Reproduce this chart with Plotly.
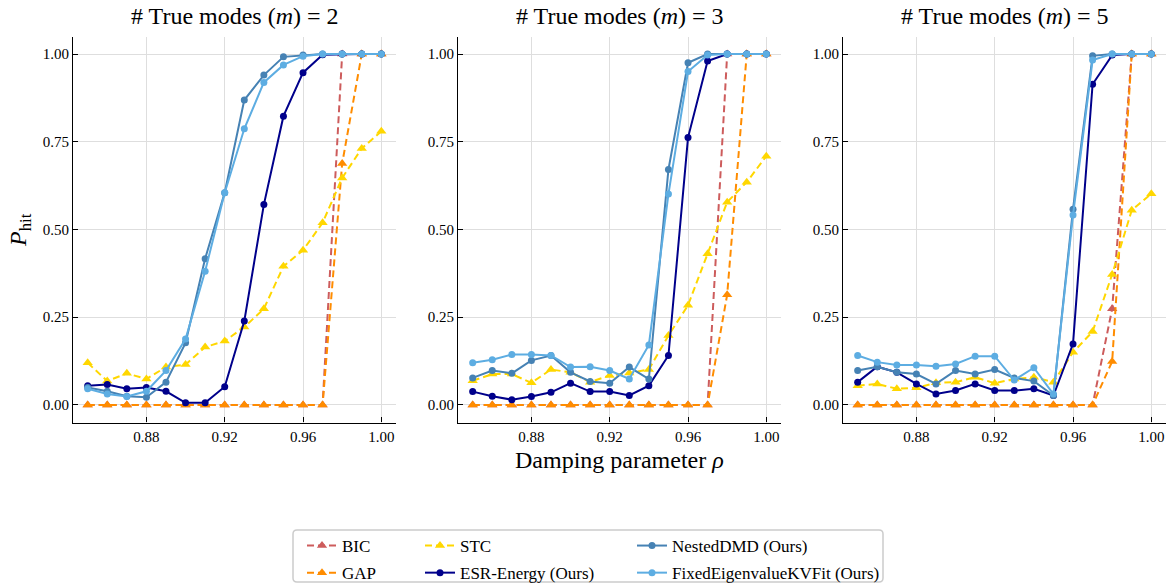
import plotly.graph_objects as go

W, H = 1171, 585

rho = [0.85, 0.86, 0.87, 0.88, 0.89, 0.90, 0.91, 0.92, 0.93, 0.94, 0.95, 0.96, 0.97, 0.98, 0.99, 1.00]
panel_titles = ["# True modes (<i>m</i>) = 2", "# True modes (<i>m</i>) = 3", "# True modes (<i>m</i>) = 5"]
x_ticks = [0.88, 0.92, 0.96, 1.00]
y_ticks = [0.0, 0.25, 0.5, 0.75, 1.0]

# m = 2
bic_m2 = [0, 0, 0, 0, 0, 0, 0, 0, 0, 0, 0, 0, 0, 1.0, 1.0, 1.0]
gap_m2 = [0, 0, 0, 0, 0, 0, 0, 0, 0, 0, 0, 0, 0, 0.688, 1.0, 1.0]
stc_m2 = [0.12, 0.068, 0.09, 0.074, 0.108, 0.115, 0.165, 0.182, 0.222, 0.274, 0.395, 0.441, 0.519, 0.647, 0.731, 0.78]
esr_m2 = [0.055, 0.058, 0.046, 0.05, 0.039, 0.006, 0.006, 0.052, 0.239, 0.571, 0.823, 0.947, 0.998, 1.0, 1.0, 1.0]
nested_m2 = [0.05, 0.039, 0.025, 0.022, 0.065, 0.177, 0.417, 0.605, 0.869, 0.94, 0.992, 0.997, 1.0, 1.0, 1.0, 1.0]
fixed_m2 = [0.046, 0.031, 0.024, 0.039, 0.098, 0.188, 0.381, 0.605, 0.787, 0.919, 0.969, 0.994, 1.0, 1.0, 1.0, 1.0]

# m = 3
bic_m3 = [0, 0, 0, 0, 0, 0, 0, 0, 0, 0, 0, 0, 0, 1.0, 1.0, 1.0]
gap_m3 = [0, 0, 0, 0, 0, 0, 0, 0, 0, 0, 0, 0, 0, 0.314, 1.0, 1.0]
stc_m3 = [0.069, 0.088, 0.088, 0.063, 0.101, 0.093, 0.065, 0.084, 0.091, 0.101, 0.198, 0.284, 0.431, 0.578, 0.635, 0.709]
esr_m3 = [0.038, 0.025, 0.015, 0.024, 0.036, 0.062, 0.038, 0.038, 0.027, 0.055, 0.141, 0.762, 0.98, 1.0, 1.0, 1.0]
nested_m3 = [0.077, 0.098, 0.09, 0.127, 0.141, 0.093, 0.067, 0.062, 0.108, 0.074, 0.671, 0.975, 1.0, 1.0, 1.0, 1.0]
fixed_m3 = [0.12, 0.129, 0.144, 0.144, 0.141, 0.108, 0.109, 0.098, 0.074, 0.171, 0.601, 0.95, 0.997, 1.0, 1.0, 1.0]

# m = 5
bic_m5 = [0, 0, 0, 0, 0, 0, 0, 0, 0, 0, 0, 0, 0, 0.274, 1.0, 1.0]
gap_m5 = [0, 0, 0, 0, 0, 0, 0, 0, 0, 0, 0, 0, 0, 0.124, 1.0, 1.0]
stc_m5 = [0.055, 0.06, 0.046, 0.049, 0.063, 0.065, 0.079, 0.062, 0.074, 0.079, 0.065, 0.15, 0.209, 0.372, 0.555, 0.602]
esr_m5 = [0.065, 0.109, 0.093, 0.06, 0.031, 0.041, 0.06, 0.041, 0.041, 0.046, 0.027, 0.174, 0.914, 0.997, 1.0, 1.0]
nested_m5 = [0.098, 0.109, 0.093, 0.088, 0.06, 0.098, 0.088, 0.101, 0.077, 0.068, 0.027, 0.558, 0.995, 1.0, 1.0, 1.0]
fixed_m5 = [0.141, 0.122, 0.114, 0.114, 0.11, 0.117, 0.139, 0.139, 0.071, 0.106, 0.031, 0.541, 0.983, 1.0, 1.0, 1.0]

panels = [
    {"BIC": bic_m2, "GAP": gap_m2, "STC": stc_m2, "ESR": esr_m2, "Nested": nested_m2, "Fixed": fixed_m2},
    {"BIC": bic_m3, "GAP": gap_m3, "STC": stc_m3, "ESR": esr_m3, "Nested": nested_m3, "Fixed": fixed_m3},
    {"BIC": bic_m5, "GAP": gap_m5, "STC": stc_m5, "ESR": esr_m5, "Nested": nested_m5, "Fixed": fixed_m5},
]

methods = [
    # key, label, color, dashed, symbol, legend id
    ("BIC", "BIC", "#CD5C5C", True, "triangle-up", "legend"),
    ("GAP", "GAP", "#FF8C00", True, "triangle-up", "legend"),
    ("STC", "STC", "#FFD700", True, "triangle-up", "legend2"),
    ("ESR", "ESR-Energy (Ours)", "#00008B", False, "circle", "legend2"),
    ("Nested", "NestedDMD (Ours)", "#4682B4", False, "circle", "legend3"),
    ("Fixed", "FixedEigenvalueKVFit (Ours)", "#5DADE2", False, "circle", "legend3"),
]

SERIF = "Liberation Serif"


def px(x):
    """page x pixel -> paper fraction"""
    return x / W


def py(y):
    """page y pixel -> paper fraction"""
    return 1 - y / H


fig = go.Figure()

# panel geometry in page pixels
x_left = [73, 458, 843]
p_width = 323
y_top, y_bot = 36.5, 422.5

for i, data in enumerate(panels):
    xa = "x" if i == 0 else f"x{i+1}"
    ya = "y" if i == 0 else f"y{i+1}"
    for key, label, color, dashed, symbol, leg in methods:
        fig.add_trace(go.Scatter(
            x=rho, y=data[key], xaxis=xa, yaxis=ya,
            mode="lines+markers", name=label, legendgroup=key,
            showlegend=(i == 0), legend=leg,
            line=dict(color=color, width=2, dash=("7px,4px" if dashed else "solid")),
            marker=dict(symbol=symbol, size=(9 if symbol == "triangle-up" else 7), color=color,
                        line=dict(width=0)),
        ))

layout = dict(
    width=W, height=H,
    margin=dict(l=0, r=0, t=0, b=0, autoexpand=False),
    paper_bgcolor="white", plot_bgcolor="white",
    font=dict(family=SERIF, color="black"),
)

for i in range(3):
    xk = "xaxis" if i == 0 else f"xaxis{i+1}"
    yk = "yaxis" if i == 0 else f"yaxis{i+1}"
    layout[xk] = dict(
        domain=[px(x_left[i]), px(x_left[i] + p_width)], range=[0.8425, 1.0075],
        anchor=("y" if i == 0 else f"y{i+1}"),
        tickvals=x_ticks, ticktext=[f"{v:.2f}" for v in x_ticks],
        showgrid=True, gridcolor="#dedede", gridwidth=1.3,
        showline=True, linecolor="black", linewidth=1.2, mirror=False,
        ticks="inside", ticklen=5, tickwidth=1.2, tickcolor="black", automargin=False,
        tickfont=dict(family=SERIF, size=15, color="black"), zeroline=False,
    )
    layout[yk] = dict(
        domain=[py(y_bot), py(y_top)], range=[-0.05, 1.05],
        anchor=("x" if i == 0 else f"x{i+1}"),
        tickvals=y_ticks, ticktext=[f"{v:.2f}" for v in y_ticks],
        showgrid=True, gridcolor="#dedede", gridwidth=1.3,
        showline=True, linecolor="black", linewidth=1.2, mirror=False,
        ticks="inside", ticklen=5, tickwidth=1.2, tickcolor="black", automargin=False,
        tickfont=dict(family=SERIF, size=15, color="black"), zeroline=False,
    )

fig.update_layout(**layout)

annotations = []
for i, t in enumerate(panel_titles):
    annotations.append(dict(text=t, x=px(x_left[i] + p_width / 2), y=py(15.5), xref="paper", yref="paper",
                            showarrow=False, xanchor="center", yanchor="middle",
                            font=dict(family=SERIF, size=24, color="black")))
annotations.append(dict(text="Damping parameter <i>ρ</i>", x=px(x_left[1] + p_width / 2), y=py(460),
                        xref="paper", yref="paper", showarrow=False, xanchor="center", yanchor="middle",
                        font=dict(family=SERIF, size=24, color="black")))
annotations.append(dict(text="<i>P</i><sub>hit</sub>", x=px(20), y=py(230), textangle=-90,
                        xref="paper", yref="paper", showarrow=False, xanchor="center", yanchor="middle",
                        font=dict(family=SERIF, size=24, color="black")))
fig.update_layout(annotations=annotations)

# legend box (rounded rectangle), page pixels
bx0, by0, bx1, by1, r = 293, 530, 883, 582, 4
path = (f"M {px(bx0 + r)},{py(by0)} L {px(bx1 - r)},{py(by0)} "
        f"Q {px(bx1)},{py(by0)} {px(bx1)},{py(by0 + r)} L {px(bx1)},{py(by1 - r)} "
        f"Q {px(bx1)},{py(by1)} {px(bx1 - r)},{py(by1)} L {px(bx0 + r)},{py(by1)} "
        f"Q {px(bx0)},{py(by1)} {px(bx0)},{py(by1 - r)} L {px(bx0)},{py(by0 + r)} "
        f"Q {px(bx0)},{py(by0)} {px(bx0 + r)},{py(by0)} Z")
fig.add_shape(type="path", path=path, xref="paper", yref="paper",
              line=dict(color="#cccccc", width=1.5), fillcolor="rgba(255,255,255,0.8)", layer="above")

leg_common = dict(orientation="v", yanchor="top", y=py(528), bgcolor="rgba(0,0,0,0)",
                  font=dict(family=SERIF, size=17, color="black"), itemwidth=30,
                  tracegroupgap=2, borderwidth=0)
fig.update_layout(
    legend=dict(x=px(302), xanchor="left", **leg_common),
    legend2=dict(x=px(420), xanchor="left", **leg_common),
    legend3=dict(x=px(632), xanchor="left", **leg_common),
)

fig.write_html("out.html", config={"displayModeBar": False},
               post_script="document.body.style.margin='0px';")
